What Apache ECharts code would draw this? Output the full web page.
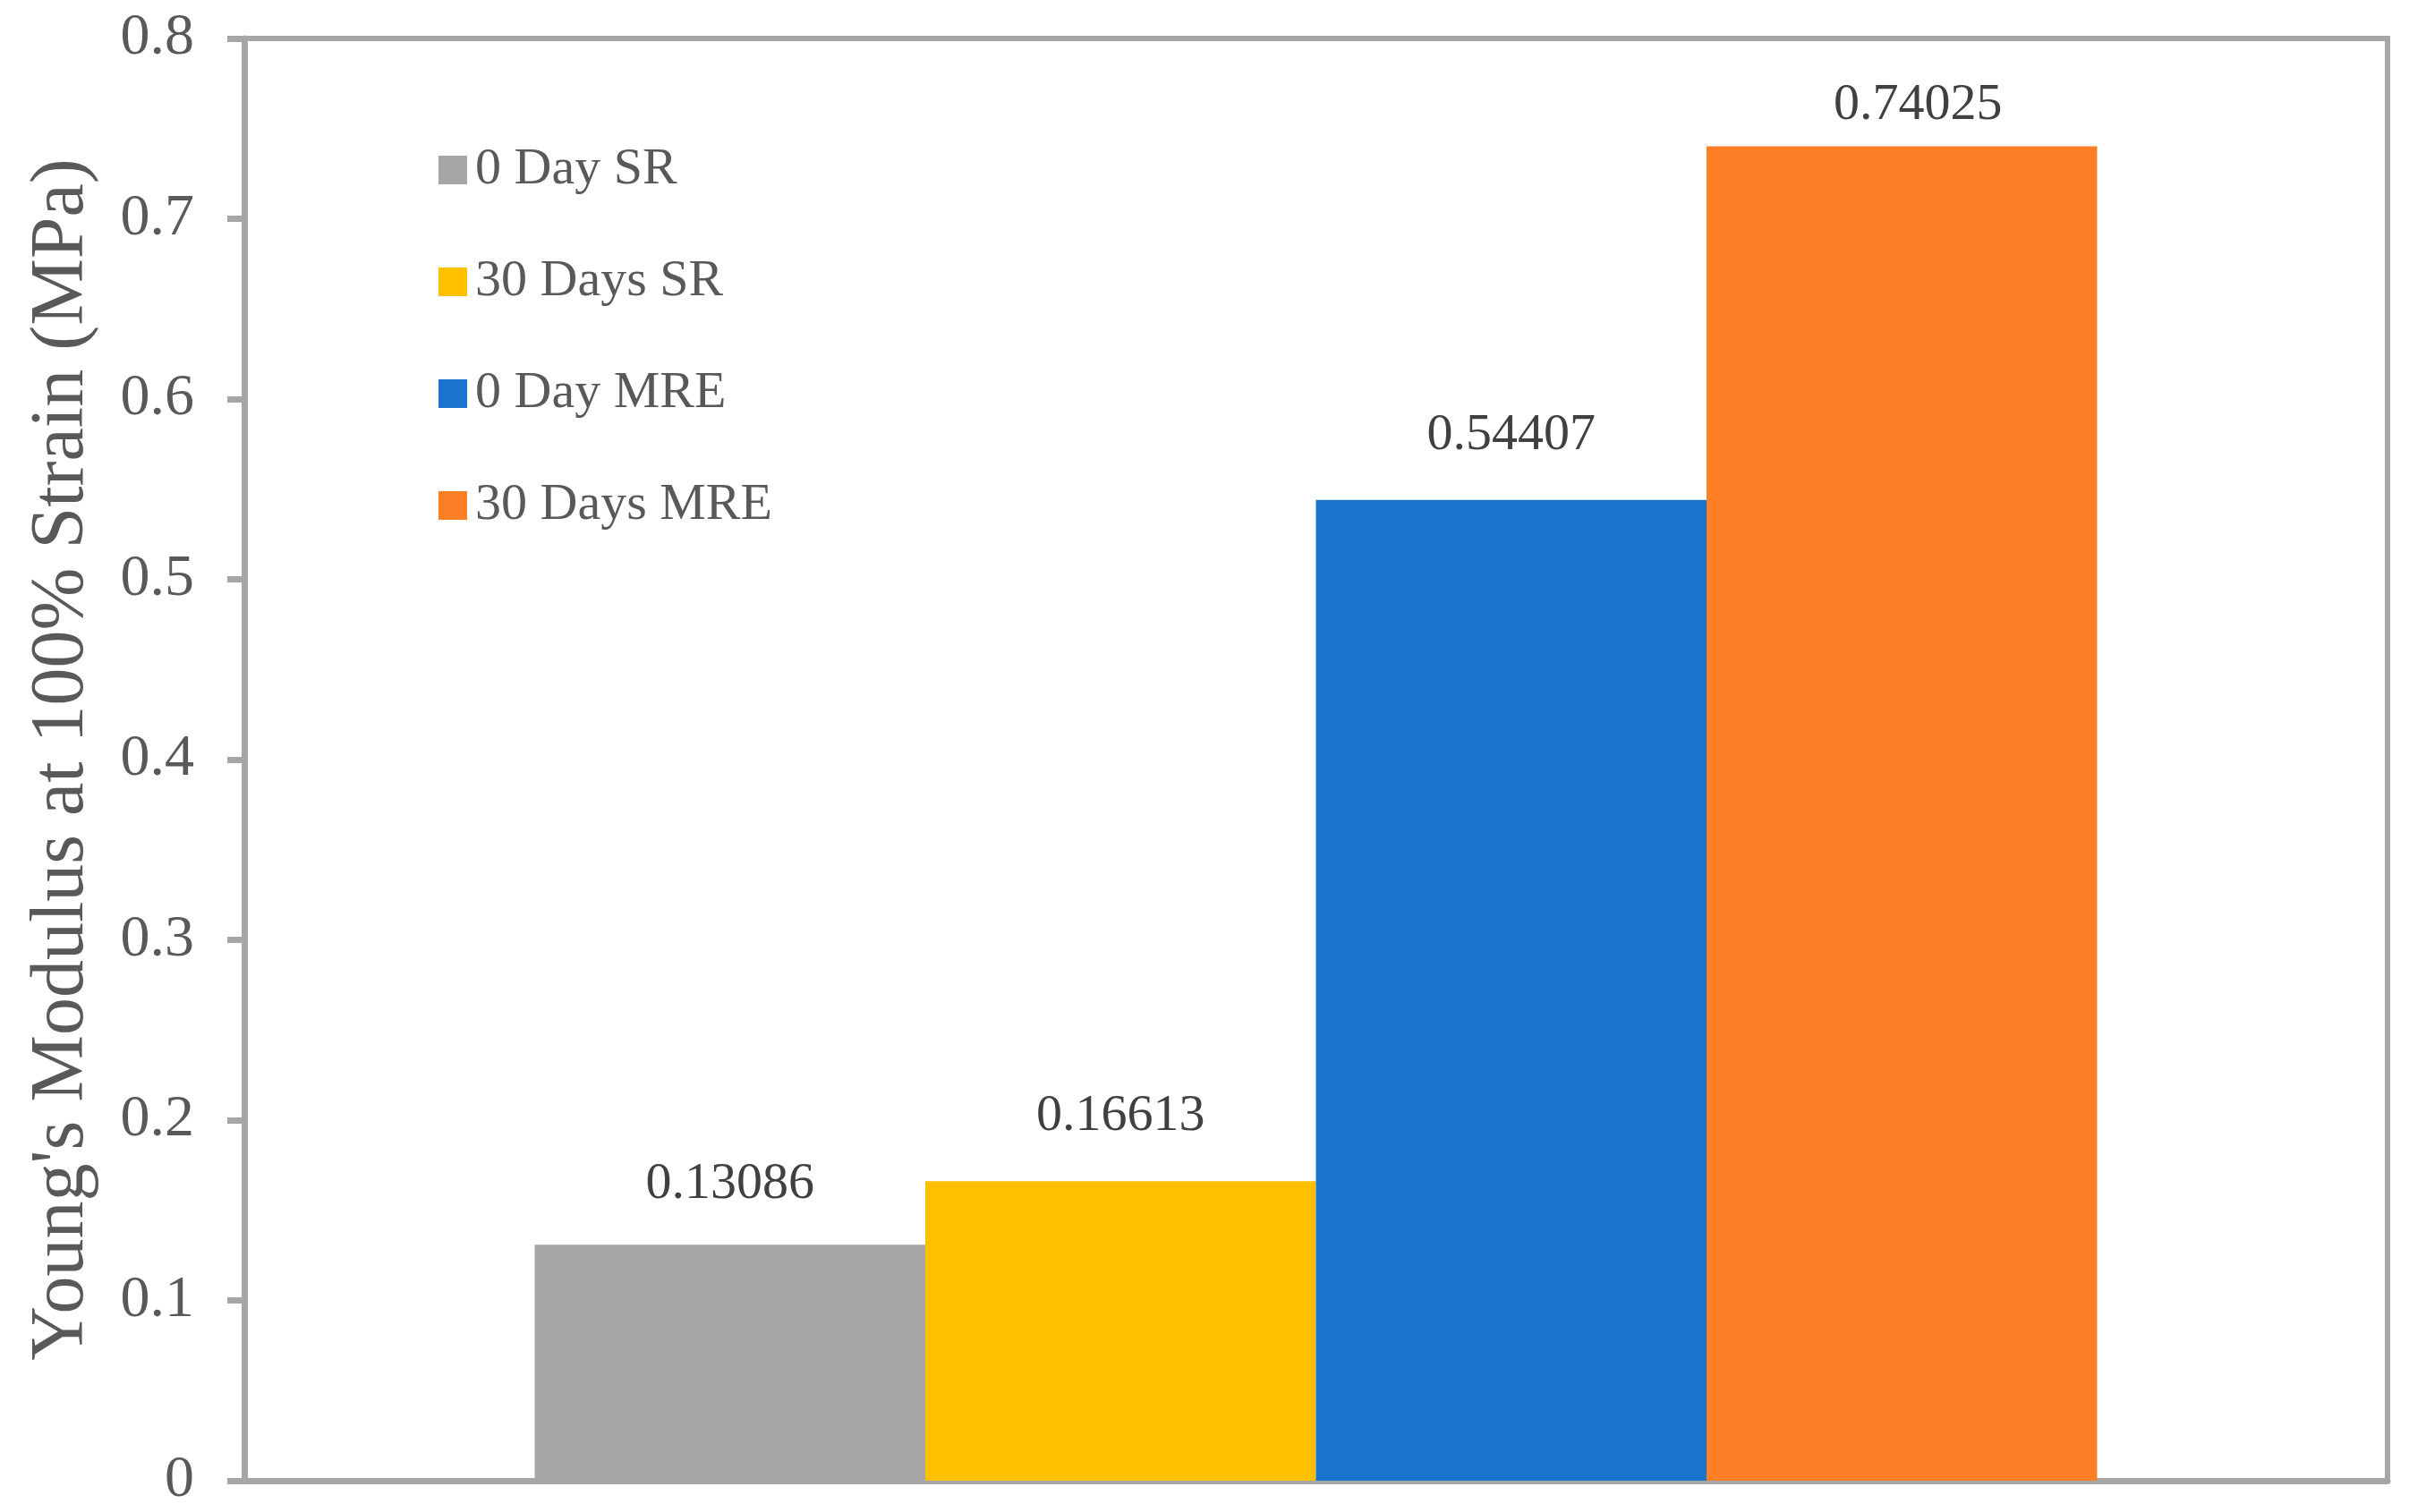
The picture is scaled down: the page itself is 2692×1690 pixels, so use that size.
<!DOCTYPE html>
<html>
<head>
<meta charset="utf-8">
<script src="https://cdn.jsdelivr.net/npm/echarts@6/dist/echarts.min.js"></script>
<style>html,body{margin:0;padding:0;background:#fff;}#c{width:2692px;height:1690px;}</style>
</head>
<body>
<div id="c"></div>
<script>
var categories = [''];
var seriesNames = ['0 Day SR', '30 Days SR', '0 Day MRE', '30 Days MRE'];
var seriesValues = [[0.13086], [0.16613], [0.54407], [0.74025]];
var seriesColors = ['#a6a6a6', '#ffc000', '#1874cd', '#ff7f27'];
var labelDistances = [39, 43, 43, 17];
var labelOffsets = [[0, 0], [0, 0], [0, 0], [18, 0]];
var yTicks = { min: 0, max: 0.8, interval: 0.1 };
var yTitle = "Young's Modulus at 100% Strain (MPa)";

var FONT = '"Liberation Serif", "Times New Roman", serif';
var chart = echarts.init(document.getElementById('c'));
var series = seriesNames.map(function (name, i) {
  return {
    name: name,
    type: 'bar',
    data: seriesValues[i],
    barGap: '0%',
    barCategoryGap: '27.1%',
    itemStyle: { color: seriesColors[i] },
    label: {
      show: true,
      position: 'top',
      distance: labelDistances[i],
      offset: labelOffsets[i],
      fontFamily: FONT,
      fontSize: 58,
      lineHeight: 58,
      color: '#404040',
      formatter: function (p) { return String(p.value); }
    },
    emphasis: { disabled: true }
  };
});
chart.setOption({
  animation: false,
  backgroundColor: '#ffffff',
  grid: {
    left: 273, right: 24, top: 43, bottom: 35,
    show: true, borderColor: '#a6a6a6', borderWidth: 6, backgroundColor: 'transparent'
  },
  legend: {
    orient: 'vertical',
    left: 490, top: 161,
    padding: 0,
    itemWidth: 32, itemHeight: 32,
    itemGap: 67,
    icon: 'rect',
    data: seriesNames,
    textStyle: { fontFamily: FONT, fontSize: 58, lineHeight: 58, color: '#595959', padding: [0, 0, 0, 4] }
  },
  xAxis: {
    type: 'category',
    data: categories,
    axisLine: { show: true, lineStyle: { color: '#a6a6a6', width: 7 } },
    axisTick: { show: false },
    axisLabel: { show: false },
    splitLine: { show: false }
  },
  yAxis: {
    type: 'value',
    min: yTicks.min, max: yTicks.max, interval: yTicks.interval,
    name: yTitle,
    nameLocation: 'middle',
    nameGap: 161,
    nameRotate: 90,
    nameTextStyle: { fontFamily: FONT, fontSize: 84, color: '#595959' },
    axisLine: { show: true, lineStyle: { color: '#a6a6a6', width: 7 } },
    axisTick: { show: true, inside: false, length: 19, lineStyle: { color: '#a6a6a6', width: 7 } },
    axisLabel: { margin: 56, fontFamily: FONT, fontSize: 66, color: '#595959' },
    splitLine: { show: false }
  },
  series: series
});
</script>
</body>
</html>
